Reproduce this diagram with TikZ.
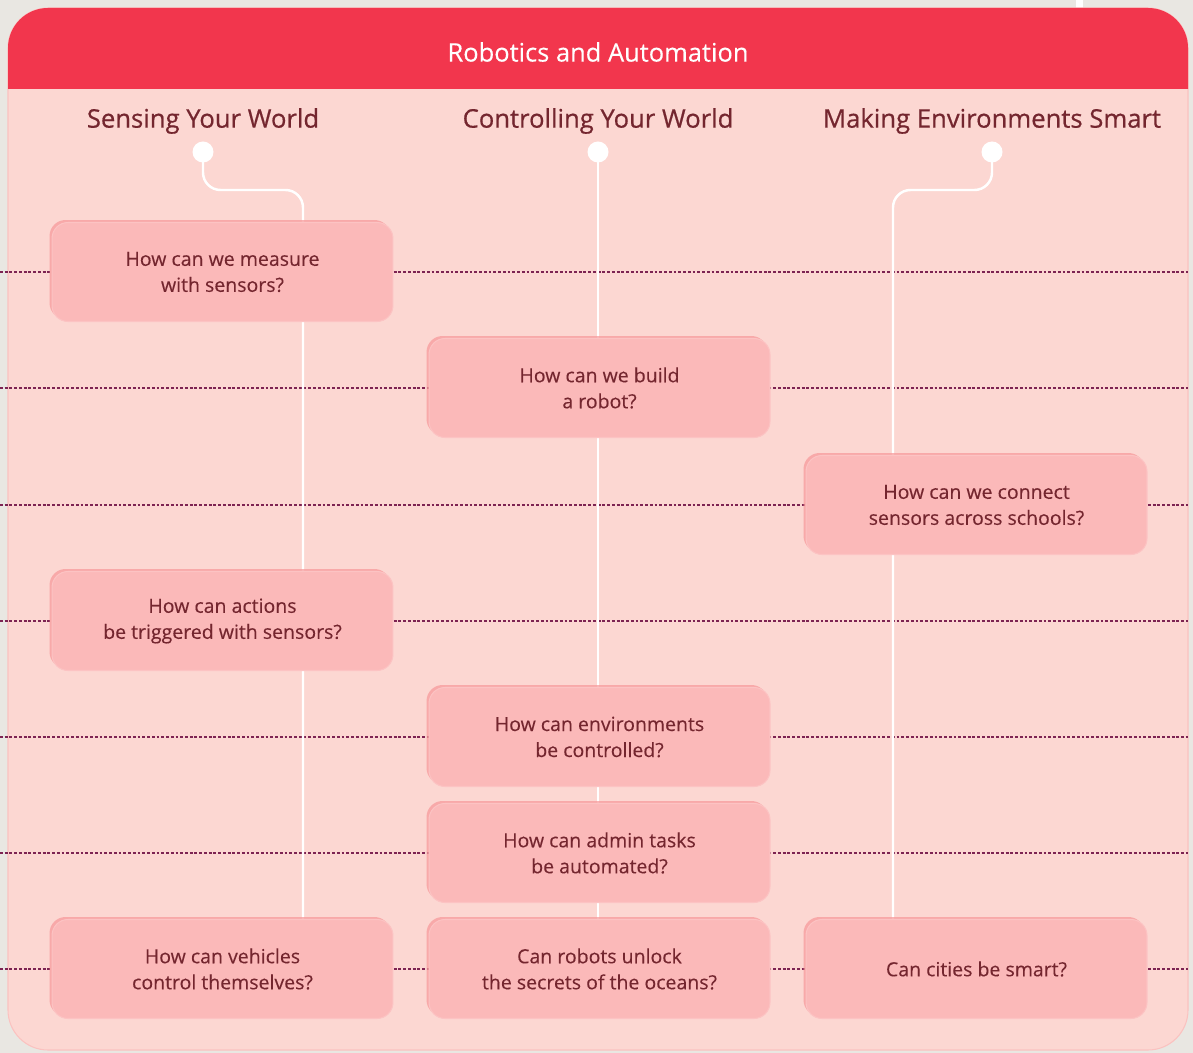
\documentclass[tikz,border=0pt]{standalone}
\usepackage{fontspec}
\setmainfont{Open Sans}
\newfontfamily\semifont{Open Sans}[FakeBold=0.6]
\newfontfamily\boxfont{Open Sans}[FakeBold=0.25]
\usetikzlibrary{shadows,calc}
\definecolor{outbg}{HTML}{E9E7E2}
\definecolor{cardbg}{HTML}{FCD7D2}
\definecolor{hdr}{HTML}{F2364D}
\definecolor{boxf}{HTML}{FBB9B9}
\definecolor{boxglow}{HTML}{F79A9C}
\definecolor{txt}{HTML}{74262F}
\definecolor{dotc}{HTML}{7D2352}
\tikzset{
  qbox/.style={rectangle, rounded corners=0.32cm, fill=boxf, draw=boxf!85!white, line width=0.6pt,
    minimum width=6.82cm, minimum height=1.98cm, align=center, text=txt,
    font=\boxfont\fontsize{11.1}{14.8}\selectfont,
    drop shadow={shadow xshift=-0.05cm, shadow yshift=0.05cm, fill=boxglow, opacity=0.75}},
  coltitle/.style={text=txt, font=\semifont\fontsize{14.6}{17}\selectfont, inner sep=0pt},
  wline/.style={draw=white, line width=1.4pt, rounded corners=0.35cm},
  dotl/.style={draw=dotc, line width=0.8pt, dash pattern=on 1.6pt off 1.1pt},
  wdot/.style={circle, fill=white, minimum size=0.42cm, inner sep=0pt}
}
\begin{document}
\begin{tikzpicture}[x=0.02cm,y=-0.02cm]
\useasboundingbox (0,0) rectangle (1193,1053);
\fill[outbg] (0,0) rectangle (1193,1053);
\fill[white] (1076,0) rectangle (1083,9);
% card
\fill[cardbg, draw=boxf!70!cardbg, line width=0.6pt, rounded corners=0.8cm] (8,8) rectangle (1188,1050);
\begin{scope}
\clip (0,0) rectangle (1193,89);
\fill[hdr, rounded corners=0.8cm] (8,8) rectangle (1188,1050);
\end{scope}
\node[text=white, font=\boxfont\fontsize{14.5}{17}\selectfont] (head) at (598,52) {Robotics and Automation};
% column titles
\node[coltitle] (t1) at (203,121) {Sensing Your World};
\node[coltitle] (t2) at (598,121) {Controlling Your World};
\node[coltitle] (t3) at (992,121) {Making Environments Smart};
% anchors
\coordinate (L) at (0,0);
\coordinate (R) at (1188,0);
\coordinate (j1) at (303,190);
\coordinate (j3) at (893,190);
% box positions
\coordinate (p1) at (222.5,272);
\coordinate (p2) at (599.5,388);
\coordinate (p3) at (976.5,505);
\coordinate (p4) at (222.5,621);
\coordinate (p5) at (599.5,737);
\coordinate (p6) at (599.5,853);
\coordinate (p7) at (222.5,969);
% dotted lines
\foreach \p in {p1,p2,p3,p4,p5,p6,p7} {\draw[dotl] (L |- \p) -- (R |- \p);}
% dots
\node[wdot] (d1) at (203,152) {};
\node[wdot] (d2) at (598,152) {};
\node[wdot] (d3) at (992,152) {};
% white lines
\coordinate (e1) at (303,920);
\coordinate (e2) at (598,920);
\coordinate (e3) at (893,920);
\draw[wline] (d1.center) |- (j1) -- (e1);
\draw[wline] (d2.center) -- (e2);
\draw[wline] (d3.center) |- (j3) -- (e3);
% boxes
\node[qbox] (b1) at (p1) {How can we measure\\with sensors?};
\node[qbox] (b2) at (p2) {How can we build\\a robot?};
\node[qbox] (b3) at (p3) {How can we connect\\sensors across schools?};
\node[qbox] (b4) at (p4) {How can actions\\be triggered with sensors?};
\node[qbox] (b5) at (p5) {How can environments\\be controlled?};
\node[qbox] (b6) at (p6) {How can admin tasks\\be automated?};
\node[qbox] (b7) at (p7) {How can vehicles\\control themselves?};
\node[qbox] (b8) at (599.5,969) {Can robots unlock\\the secrets of the oceans?};
\node[qbox] (b9) at (976.5,969) {Can cities be smart?};
\end{tikzpicture}
\end{document}
